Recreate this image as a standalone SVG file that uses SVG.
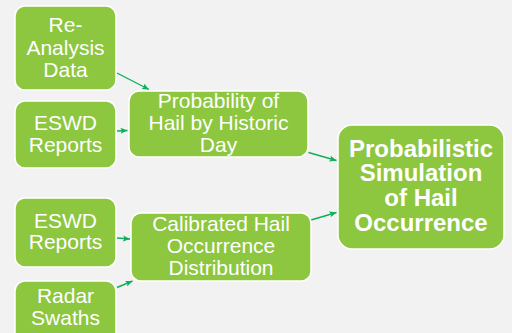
<svg xmlns="http://www.w3.org/2000/svg" width="512" height="333" viewBox="0 0 512 333">
  <style>
    .box { fill: #8dc63f; stroke: #ffffff; stroke-width: 1.5; }
    .lbl { font-family: "Liberation Sans", Arial, sans-serif; font-size: 21px; fill: #ffffff; text-anchor: middle; }
    .big { font-family: "Liberation Sans", Arial, sans-serif; font-size: 24px; font-weight: bold; fill: #ffffff; text-anchor: middle; }
    .link { stroke: #10ad5b; stroke-width: 1.4; fill: none; marker-end: url(#head); }
  </style>
  <defs>
    <marker id="head" markerUnits="userSpaceOnUse" markerWidth="8" markerHeight="7" refX="7" refY="3" orient="auto">
      <path d="M0,0 L7,3 L0,6 L1.5,3 z" fill="#10ad5b"/>
    </marker>
  </defs>
  <rect width="512" height="333" fill="#f2f2f2"/>

  <g id="connectors">
    <line class="link" x1="117" y1="73" x2="149" y2="89.5"/>
    <line class="link" x1="117" y1="131" x2="127.5" y2="130.5"/>
    <line class="link" x1="308.5" y1="152.5" x2="336.5" y2="160.5"/>
    <line class="link" x1="311" y1="220" x2="336.5" y2="212.5"/>
    <line class="link" x1="117" y1="238" x2="130" y2="239"/>
    <line class="link" x1="117" y1="287.5" x2="132.5" y2="281"/>
  </g>

  <g id="reanalysis">
    <rect class="box" x="15" y="6" width="101" height="84" rx="10"/>
    <text class="lbl" x="65.5" y="32.3">Re-</text>
    <text class="lbl" x="65.5" y="54.5">Analysis</text>
    <text class="lbl" x="65.5" y="76.7">Data</text>
  </g>

  <g id="eswd-top">
    <rect class="box" x="15" y="101" width="101" height="67" rx="10"/>
    <text class="lbl" x="65.5" y="130">ESWD</text>
    <text class="lbl" x="65.5" y="151.7">Reports</text>
  </g>

  <g id="prob-hail">
    <rect class="box" x="129" y="91" width="179" height="66" rx="10"/>
    <text class="lbl" x="218.5" y="107.7">Probability of</text>
    <text class="lbl" x="218.5" y="129.8">Hail by Historic</text>
    <text class="lbl" x="218.5" y="151.7">Day</text>
  </g>

  <g id="eswd-bottom">
    <rect class="box" x="15" y="198" width="101" height="69" rx="10"/>
    <text class="lbl" x="65.5" y="227.7">ESWD</text>
    <text class="lbl" x="65.5" y="249.2">Reports</text>
  </g>

  <g id="radar">
    <rect class="box" x="15" y="281" width="101" height="64" rx="10"/>
    <text class="lbl" x="65.5" y="303.3">Radar</text>
    <text class="lbl" x="65.5" y="324.5">Swaths</text>
  </g>

  <g id="calibrated">
    <rect class="box" x="131" y="213" width="180" height="68" rx="10"/>
    <text class="lbl" x="221" y="230.7">Calibrated Hail</text>
    <text class="lbl" x="221" y="253.2">Occurrence</text>
    <text class="lbl" x="221" y="275">Distribution</text>
  </g>

  <g id="simulation">
    <rect class="box" x="338" y="125" width="166" height="124" rx="14"/>
    <text class="big" x="421" y="156.7">Probabilistic</text>
    <text class="big" x="421" y="181.3">Simulation</text>
    <text class="big" x="421" y="206">of Hail</text>
    <text class="big" x="421" y="230.7">Occurrence</text>
  </g>
</svg>
